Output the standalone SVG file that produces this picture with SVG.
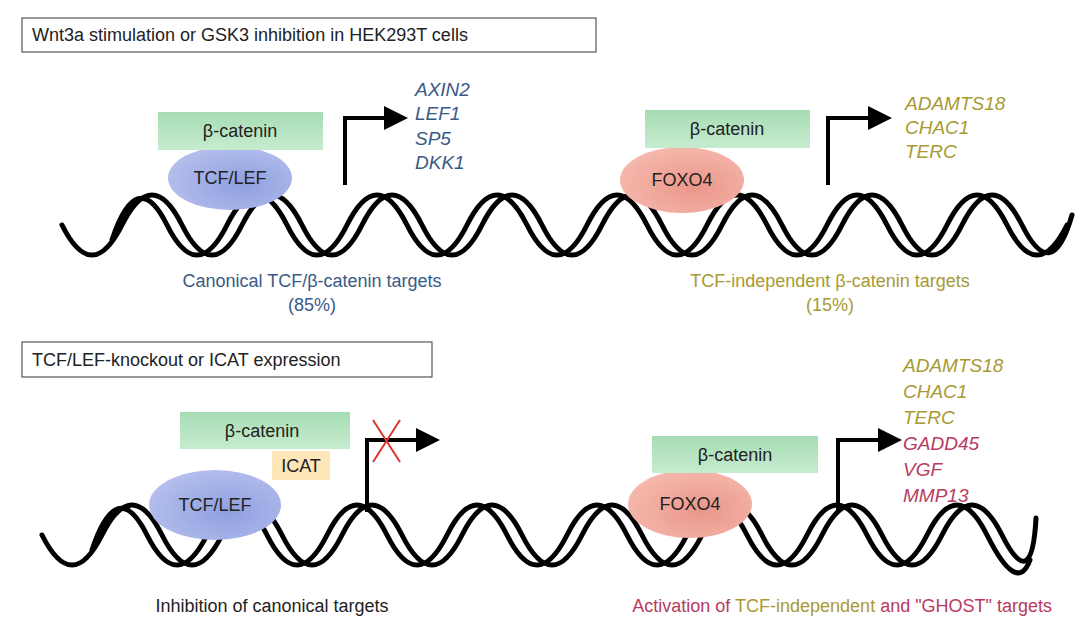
<svg xmlns="http://www.w3.org/2000/svg" width="1080" height="624" viewBox="0 0 1080 624">
<defs>
<marker id="ah" markerWidth="6" markerHeight="6" refX="3" refY="3" orient="auto" markerUnits="strokeWidth"><path d="M0,0 L6,3 L0,6 z" fill="#000"/></marker>
<linearGradient id="gr" x1="0" y1="0" x2="0" y2="1"><stop offset="0" stop-color="#a6dcb4"/><stop offset="1" stop-color="#c6eccf"/></linearGradient>
<radialGradient id="bl" cx="0.6" cy="0.6" r="0.7"><stop offset="0" stop-color="#8f9fe0"/><stop offset="1" stop-color="#b8c2ee"/></radialGradient>
<radialGradient id="rd" cx="0.6" cy="0.6" r="0.7"><stop offset="0" stop-color="#eb968a"/><stop offset="1" stop-color="#f6bcb0"/></radialGradient>
</defs>
<style>
text{font-family:"Liberation Sans",Arial,sans-serif;font-size:18px;fill:#222}
.g{font-style:italic;font-size:19px}
.b{fill:#3a5a88}.o{fill:#a89a32}.r{fill:#b83a5e}
.dna{fill:none;stroke:#000;stroke-width:5;stroke-linecap:round}
.arr{fill:none;stroke:#000;stroke-width:4;marker-end:url(#ah)}
.box{fill:#fff;stroke:#555;stroke-width:1.2}
</style>
<rect width="1080" height="624" fill="#fff"/>
<g id="hdr1"><rect class="box" x="22" y="18" width="574" height="34"/><text x="32" y="41">Wnt3a stimulation or GSK3 inhibition in HEK293T cells</text></g>
<g id="hdr2"><rect class="box" x="22" y="342" width="410" height="35"/><text x="32" y="366">TCF/LEF-knockout or ICAT expression</text></g>
<g id="dna1">
<path class="dna" d="M62 225 Q92 285 122 225 T182 225 T242 225 T302 225 T362 225 T422 225 T482 225 T542 225 T602 225 T662 225 T722 225 T782 225 T842 225 T902 225 T962 225 T1022 225 T1072 215"/>
<path class="dna" d="M112 240 Q137 165 167 225 T227 225 T287 225 T347 225 T407 225 T467 225 T527 225 T587 225 T647 225 T707 225 T767 225 T827 225 T887 225 T947 225 T1007 225 T1067 225"/>
</g>
<g id="dna2">
<path class="dna" d="M42 535 Q72 595 102 535 T162 535 T222 535 T282 535 T342 535 T402 535 T462 535 T522 535 T582 535 T642 535 T702 535 T762 535 T822 535 T882 535 T942 535 T1002 535 T1036 518"/>
<path class="dna" d="M92 550 Q117 475 147 535 T207 535 T267 535 T327 535 T387 535 T447 535 T507 535 T567 535 T627 535 T687 535 T747 535 T807 535 T867 535 T927 535 T987 535 T1030 560"/>
</g>
<g id="tcf1"><ellipse cx="230" cy="178" rx="62" ry="32" fill="url(#bl)"/><text x="230" y="184" text-anchor="middle">TCF/LEF</text></g>
<g id="bcat1"><rect x="158" y="112" width="165" height="38" fill="url(#gr)"/><text x="240" y="137" text-anchor="middle">β-catenin</text></g>
<g id="foxo1"><ellipse cx="682" cy="180" rx="62" ry="33" fill="url(#rd)"/><text x="682" y="186" text-anchor="middle">FOXO4</text></g>
<g id="bcat2"><rect x="645" y="110" width="165" height="38" fill="url(#gr)"/><text x="727" y="135" text-anchor="middle">β-catenin</text></g>
<g id="tcf2"><ellipse cx="215" cy="505" rx="66" ry="35" fill="url(#bl)"/><text x="215" y="511" text-anchor="middle">TCF/LEF</text></g>
<g id="bcat3"><rect x="180" y="412" width="170" height="37" fill="url(#gr)"/><text x="262" y="437" text-anchor="middle">β-catenin</text></g>
<g id="icat"><rect x="272" y="451" width="58" height="29" fill="#fde6b8"/><text x="301" y="472" text-anchor="middle">ICAT</text></g>
<g id="foxo2"><ellipse cx="690" cy="504" rx="62" ry="34" fill="url(#rd)"/><text x="690" y="510" text-anchor="middle">FOXO4</text></g>
<g id="bcat4"><rect x="652" y="436" width="166" height="37" fill="url(#gr)"/><text x="735" y="461" text-anchor="middle">β-catenin</text></g>
<g id="connectors">
<path class="arr" d="M345 185 V118 H396"/>
<path class="arr" d="M828 185 V118 H880"/>
<path class="arr" d="M367 512 V440 H428"/>
<path class="arr" d="M838 510 V440 H890"/>
<path d="M373 420 L400 462 M400 420 L373 462" stroke="#d33" stroke-width="2" fill="none"/>
</g>
<g id="genes1"><text class="g b" x="415" y="96">AXIN2</text><text class="g b" x="415" y="120">LEF1</text><text class="g b" x="415" y="145">SP5</text><text class="g b" x="415" y="169">DKK1</text></g>
<g id="genes2"><text class="g o" x="905" y="110">ADAMTS18</text><text class="g o" x="905" y="134">CHAC1</text><text class="g o" x="905" y="158">TERC</text></g>
<g id="genes3"><text class="g o" x="903" y="372">ADAMTS18</text><text class="g o" x="903" y="398">CHAC1</text><text class="g o" x="903" y="424">TERC</text><text class="g r" x="903" y="450">GADD45</text><text class="g r" x="903" y="476">VGF</text><text class="g r" x="903" y="502">MMP13</text></g>
<g id="labels">
<text class="b" x="312" y="287" text-anchor="middle">Canonical TCF/β-catenin targets</text>
<text class="b" x="312" y="311" text-anchor="middle">(85%)</text>
<text class="o" x="830" y="287" text-anchor="middle">TCF-independent β-catenin targets</text>
<text class="o" x="830" y="311" text-anchor="middle">(15%)</text>
<text x="272" y="612" text-anchor="middle">Inhibition of canonical targets</text>
<text x="1052" y="612" text-anchor="end"><tspan class="r">Activation of </tspan><tspan class="o">TCF-independent</tspan><tspan class="r"> and "GHOST" targets</tspan></text>
</g>
</svg>
